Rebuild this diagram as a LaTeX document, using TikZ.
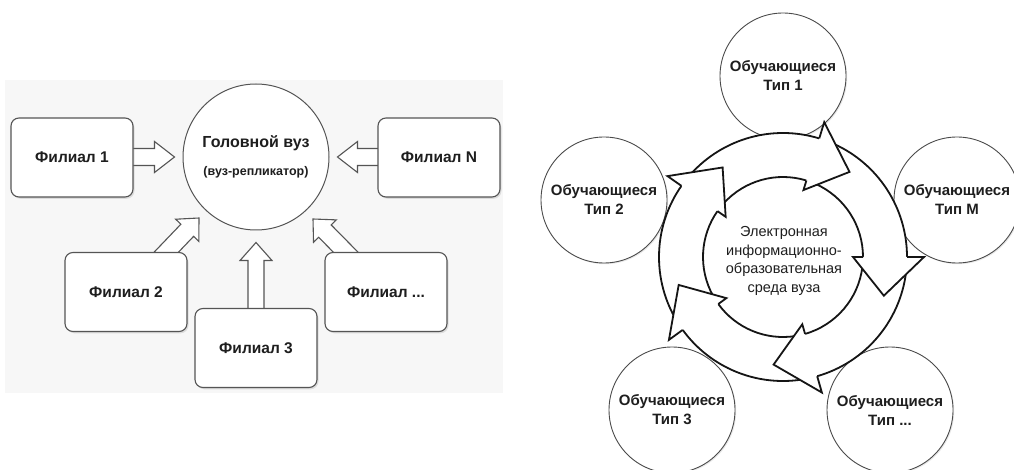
\documentclass[tikz,border=0pt]{standalone}
\usepackage{fontspec}
\setmainfont{Liberation Sans}
\usetikzlibrary{calc,shadows}
\definecolor{lineg}{HTML}{555555}
\definecolor{circg}{HTML}{4A4A4A}
\definecolor{txt}{HTML}{1E1E1E}
\definecolor{panel}{HTML}{F7F7F7}
\definecolor{ringc}{HTML}{151515}
\newcommand\blockarr[5]{%
  \coordinate (ba-hb) at ($(#2)!#5!(#1)$);
  \filldraw[arrowst] ($(#1)!#3!90:(#2)$) -- ($(ba-hb)!#3!90:(#2)$) -- ($(ba-hb)!#4!90:(#2)$) -- (#2)
    -- ($(ba-hb)!#4!-90:(#2)$) -- ($(ba-hb)!#3!-90:(#2)$) -- ($(#1)!#3!-90:(#2)$);
}
\begin{document}
\begin{tikzpicture}[x=1pt,y=-1pt,
  fbox/.style={draw=lineg, line width=1.1pt, rounded corners=8pt, fill=white,
    minimum width=122pt, minimum height=79pt, inner sep=0pt,
    font=\fontsize{15.5}{18}\selectfont\bfseries, text=txt,
    drop shadow={shadow xshift=1.5pt, shadow yshift=-1.8pt, opacity=0.22}},
  headc/.style={circle, draw=lineg, line width=1pt, fill=white, minimum size=146pt,
    inner sep=0pt, align=center, text=txt, font=\fontsize{16}{28}\selectfont\bfseries},
  arrowst/.style={draw=lineg, line width=1.1pt, fill=white, line join=miter},
  tcirc/.style={circle, draw=circg, line width=0.9pt, fill=white, minimum size=126pt,
    inner sep=0pt, align=center, text=txt, font=\fontsize{15}{19}\selectfont\bfseries,
    drop shadow={shadow xshift=1.2pt, shadow yshift=-1.2pt, opacity=0.18}},
  ringline/.style={draw=ringc, line width=1.8pt},
  ctext/.style={align=center, text=txt, inner sep=0pt, font=\fontsize{14.5}{18.5}\selectfont}
]
\useasboundingbox (0,0) rectangle (1014,470);
\fill[white] (0,0) rectangle (1014,470);
% left panel
\fill[panel] (5,80) rectangle (503,393);

% nodes (left)
\node[headc] (head) at (256,157) {Головной вуз\\{\fontsize{12.5}{15}\selectfont(вуз-репликатор)}};
\coordinate (f1e) at (133,157);
\coordinate (fNw) at (378,157);
\coordinate (f3n) at (256,308);
\coordinate (f2n) at (165.5,253);
\coordinate (fdn) at (346.5,253);
\coordinate (t1) at ([xshift=-8pt]head.west);
\coordinate (tN) at ([xshift=8pt]head.east);
\coordinate (t3) at ([yshift=-12pt]head.south);
\coordinate (t2) at ([shift={(-57pt,-61pt)}]head.center);
\coordinate (td) at ([shift={(57pt,-62pt)}]head.center);

% block arrows (drawn before boxes)
\blockarr{$(t1)!1.1!(f1e)$}{t1}{8.5pt}{15.5pt}{20pt}
\blockarr{$(tN)!1.1!(fNw)$}{tN}{8.5pt}{15.5pt}{20pt}
\blockarr{$(t3)!1.05!(f3n)$}{t3}{8pt}{16pt}{18pt}
\blockarr{$(t2)!1.3!(f2n)$}{t2}{8.8pt}{16pt}{17pt}
\blockarr{$(td)!1.3!(fdn)$}{td}{8.8pt}{16pt}{17pt}

\node[fbox] (f1) at (72,157.5) {Филиал 1};
\node[fbox] (fN) at (439,157.5) {Филиал N};
\node[fbox] (f2) at (126,292) {Филиал 2};
\node[fbox] (f3) at (256,348) {Филиал 3};
\node[fbox] (fd) at (386,292) {Филиал ...};

% right part: circles
\node[tcirc] (c1) at (783,76) {Обучающиеся\\Тип 1};
\node[tcirc] (c2) at (604,200) {Обучающиеся\\Тип 2};
\node[tcirc] (cM) at (957,200) {Обучающиеся\\Тип М};
\node[tcirc] (c3) at (672,410) {Обучающиеся\\Тип 3};
\node[tcirc] (cd) at (890,410) {Обучающиеся\\Тип ...};

% ring of arrows
\begin{scope}[shift={(783,257)}, y=1pt]
  \foreach \a/\b in {209/145,138/73,66/0,-7/-74,-81/-144} {
    \fill[white] (\a:124) arc[start angle=\a, end angle=\b, radius=124]
      -- (\b:80) arc[start angle=\b, end angle=\a, radius=80] -- cycle;
    \draw[ringline] (\a:124) arc[start angle=\a, end angle=\b, radius=124];
    \draw[ringline] (\a:80) arc[start angle=\a, end angle=\b, radius=80];
  }
  \foreach \b [evaluate=\b as \t using \b-21] in {145,73,0,-74,-144} {
    \fill[white] (\b:141) -- (\t:108) -- (\b:70) -- cycle;
    \draw[ringline, line join=miter] (\b:124) -- (\b:141) -- (\t:108) -- (\b:70) -- (\b:80);
  }
\end{scope}
\node[ctext] (env) at (784,261) {Электронная\\информационно-\\образовательная\\среда вуза};
\end{tikzpicture}
\end{document}
